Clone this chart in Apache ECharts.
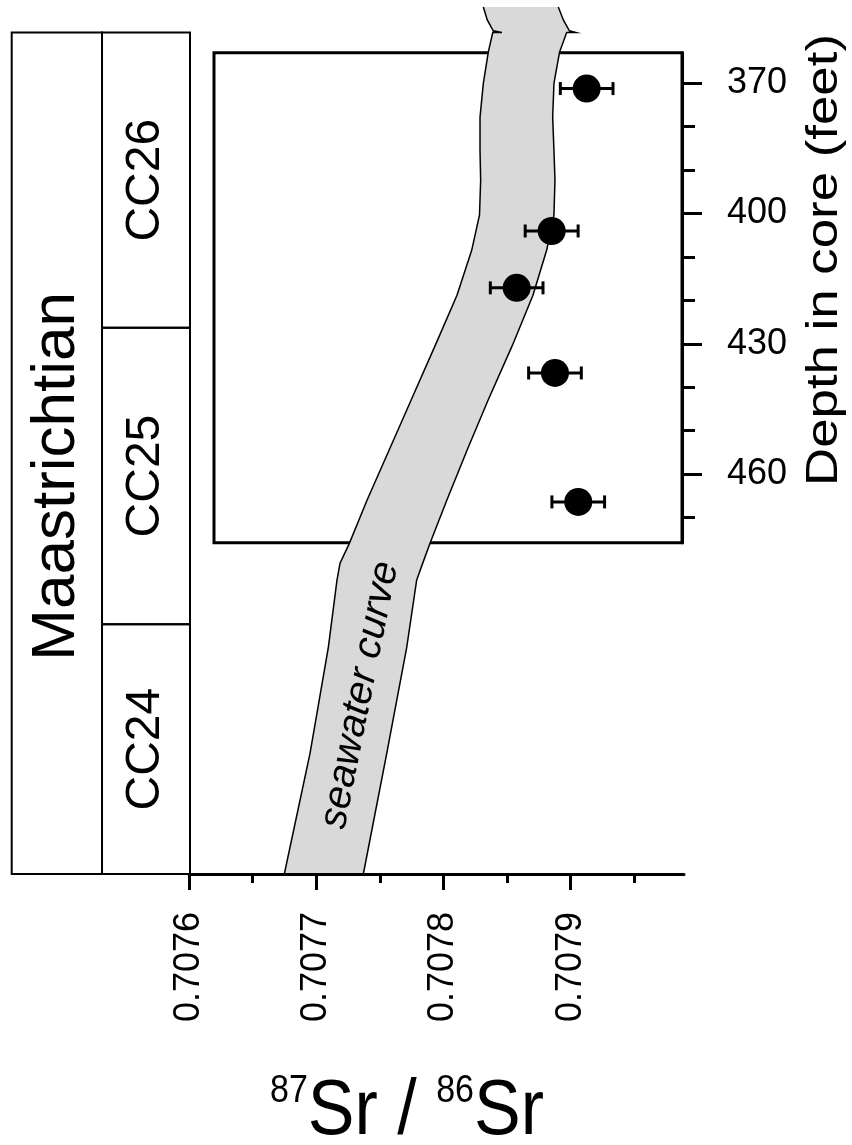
<!DOCTYPE html>
<html>
<head>
<meta charset="utf-8">
<script src="https://cdn.jsdelivr.net/npm/echarts@6/dist/echarts.min.js"></script>
<style>
  html, body { margin: 0; padding: 0; background: #fff; }
  #chart { width: 852px; height: 1145px; }
</style>
</head>
<body>
<div id="chart"></div>
<script>
// samples: depth (feet) and 87Sr/86Sr with 2-sigma error
const sampleDepth = [371.2, 404.0, 417.1, 436.7, 466.4];
const sampleRatio = [0.7079125, 0.7078850, 0.7078575, 0.7078876, 0.7079059];
const sampleErr = [0.0000207, 0.0000208, 0.0000207, 0.0000207, 0.0000207];

// seawater curve band (left / right edge)
const bandDepth = [358.3, 362.8, 370.0, 377.8, 385.4, 392.3, 400.3, 408.4, 418.8, 430.3,
  443.0, 454.5, 466.0, 475.9, 480.5, 484.4, 499.9, 524.3, 552.1];
const bandLow = [0.7078387, 0.7078352, 0.7078313, 0.7078287, 0.7078287, 0.7078292, 0.7078283,
  0.7078222, 0.7078106, 0.7077936, 0.7077745, 0.7077572, 0.7077399, 0.7077261, 0.7077187,
  0.7077163, 0.7077095, 0.7076951, 0.7076749];
const bandHigh = [0.7078968, 0.7078912, 0.7078868, 0.7078858, 0.7078868, 0.7078876, 0.7078868,
  0.7078811, 0.7078703, 0.7078542, 0.7078350, 0.7078185, 0.7078026, 0.7077894, 0.7077837,
  0.7077789, 0.7077711, 0.7077554, 0.7077370];

// broken-off top of the curve
const breakDepth = [352.4, 355.4, 357.9];
const breakLow = [0.7078313, 0.7078344, 0.7078391];
const breakHigh = [0.7078902, 0.7078942, 0.7078989];
const flickLen = 0.0000072;

// biostratigraphy
const stageName = 'Maastrichtian';
const stageTop = 358.3;
const stageBottom = 552.1;
const zoneNames = ['CC26', 'CC25', 'CC24'];
const zoneTop = [358.3, 426.3, 494.6];
const zoneBottom = [426.3, 494.6, 552.1];

// axes
const ratioTicks = [0.7076, 0.7077, 0.7078, 0.7079];
const ratioMinorTicks = [0.70765, 0.70775, 0.70785, 0.70795];
const depthTicks = [370, 400, 430, 460];
const depthMinorTicks = [380, 390, 410, 420, 440, 450, 470];

const FONT = "'Liberation Sans', Arial, Helvetica, sans-serif";
const chart = echarts.init(document.getElementById('chart'));

const ratioMin = 0.7076, ratioMax = 0.707989;
const depthMin = 350.8, depthMax = 552.1;
const boxMin = 362.95, boxMax = 475.83;

function renderBand(params, api) {
  const pt = (v, d) => api.coord([v, d]);
  const left = [];
  breakDepth.forEach((d, i) => left.push(pt(breakLow[i], d)));
  left.push(pt(bandLow[0] + flickLen, bandDepth[0]));
  bandDepth.forEach((d, i) => left.push(pt(bandLow[i], d)));
  const right = [];
  breakDepth.forEach((d, i) => right.push(pt(breakHigh[i], d)));
  right.push(pt(bandHigh[0] + flickLen, bandDepth[0]));
  bandDepth.forEach((d, i) => right.push(pt(bandHigh[i], d)));

  const fill = [];
  breakDepth.forEach((d, i) => fill.push(pt(breakLow[i], d)));
  bandDepth.forEach((d, i) => fill.push(pt(bandLow[i], d)));
  for (let i = bandDepth.length - 1; i >= 0; i--) fill.push(pt(bandHigh[i], bandDepth[i]));
  for (let i = breakDepth.length - 1; i >= 0; i--) fill.push(pt(breakHigh[i], breakDepth[i]));

  return {
    type: 'group',
    children: [
      { type: 'polygon', shape: { points: fill }, style: { fill: '#d9d9d9', stroke: null } },
      { type: 'polyline', shape: { points: left }, style: { fill: null, stroke: '#000', lineWidth: 1.5 } },
      { type: 'polyline', shape: { points: right }, style: { fill: null, stroke: '#000', lineWidth: 1.5 } }
    ]
  };
}

function renderErr(params, api) {
  const v = api.value(0), d = api.value(1), e = api.value(2);
  const a = api.coord([v - e, d]);
  const b = api.coord([v + e, d]);
  const cap = 6.5;
  const st = { stroke: '#000', lineWidth: 3 };
  return {
    type: 'group',
    children: [
      { type: 'line', shape: { x1: a[0], y1: a[1], x2: b[0], y2: b[1] }, style: st },
      { type: 'line', shape: { x1: a[0], y1: a[1] - cap, x2: a[0], y2: a[1] + cap }, style: st },
      { type: 'line', shape: { x1: b[0], y1: b[1] - cap, x2: b[0], y2: b[1] + cap }, style: st }
    ]
  };
}

function renderStrat(params, api) {
  const x0 = api.value(0), x1 = api.value(1);
  const top = api.value(2), bot = api.value(3);
  const name = api.value(4);
  const p0 = api.coord([x0, top]);
  const p1 = api.coord([x1, bot]);
  const isStage = name === stageName;
  const cx = (p0[0] + p1[0]) / 2;
  const cy = (p0[1] + p1[1]) / 2 + (isStage ? 23 : 0);
  return {
    type: 'group',
    children: [
      {
        type: 'rect',
        shape: { x: p0[0], y: p0[1], width: p1[0] - p0[0], height: p1[1] - p0[1] },
        style: { fill: null, stroke: '#000', lineWidth: 2 }
      },
      {
        type: 'text',
        x: cx, y: cy,
        rotation: Math.PI / 2,
        style: {
          text: name, fill: '#000', fontFamily: FONT,
          fontSize: isStage ? 62 : 48,
          align: 'center', verticalAlign: 'middle'
        }
      }
    ]
  };
}

const stratData = [[0, 0.5065, stageTop, stageBottom, stageName]];
zoneNames.forEach((n, i) => stratData.push([0.5065, 1, zoneTop[i], zoneBottom[i], n]));

const tickLine = { color: '#000', width: 3 };
const hiddenAxis = (gridIndex, min, max, inverse) =>
  ({ gridIndex, type: 'value', min, max, inverse: !!inverse, show: false });

chart.setOption({
  animation: false,
  backgroundColor: '#fff',
  grid: [
    { left: 189, top: 0, width: 495, height: 874 },
    { left: 214, top: 52.7, width: 468, height: 490, show: true, borderColor: '#000', borderWidth: 3, backgroundColor: 'transparent' },
    { left: 11.7, top: 0, width: 178.3, height: 874 },
    { left: 189, top: 0, width: 495, height: 874 },
    { left: 214, top: 52.7, width: 468, height: 490 }
  ],
  xAxis: [
    {
      gridIndex: 0, type: 'value', min: ratioMin, max: ratioMax, z: 5, position: 'bottom',
      axisLine: { show: true, onZero: false, lineStyle: tickLine },
      axisTick: { show: true, inside: false, customValues: ratioTicks, length: 16, lineStyle: tickLine },
      axisLabel: {
        customValues: ratioTicks, rotate: 90, margin: 38, color: '#000',
        fontSize: 36, fontFamily: FONT, formatter: v => v.toFixed(4)
      },
      splitLine: { show: false }
    },
    hiddenAxis(1, 0, 1),
    hiddenAxis(2, 0, 1),
    {
      gridIndex: 3, type: 'value', min: ratioMin, max: ratioMax, z: 5, position: 'bottom',
      axisLine: { show: false, onZero: false },
      axisTick: { show: true, inside: false, customValues: ratioMinorTicks, length: 9, lineStyle: tickLine },
      axisLabel: { show: false },
      splitLine: { show: false }
    },
    hiddenAxis(4, 0, 1)
  ],
  yAxis: [
    hiddenAxis(0, depthMin, depthMax, true),
    {
      gridIndex: 1, type: 'value', inverse: true, min: boxMin, max: boxMax, position: 'right',
      axisLine: { show: true, onZero: false, lineStyle: tickLine },
      axisTick: { show: true, inside: false, customValues: depthTicks, length: 20, lineStyle: tickLine },
      axisLabel: {
        customValues: depthTicks, margin: 45, color: '#000', fontSize: 36, fontFamily: FONT,
        padding: [8, 0, 0, 0]
      },
      splitLine: { show: false }
    },
    hiddenAxis(2, depthMin, depthMax, true),
    hiddenAxis(3, depthMin, depthMax, true),
    {
      gridIndex: 4, type: 'value', inverse: true, min: boxMin, max: boxMax, position: 'right',
      axisLine: { show: false, onZero: false },
      axisTick: { show: true, inside: false, customValues: depthMinorTicks, length: 13, lineStyle: tickLine },
      axisLabel: { show: false },
      splitLine: { show: false }
    }
  ],
  graphic: [
    {
      type: 'text', x: 825, y: 260, rotation: Math.PI / 2, scaleX: 1.2,
      style: {
        text: 'Depth in core (feet)', fill: '#000', fontFamily: FONT, fontSize: 44,
        align: 'center', verticalAlign: 'middle'
      }
    },
    {
      type: 'text', x: 360, y: 695, rotation: 1.373, z: 10,
      style: {
        text: 'seawater curve', fill: '#000', fontFamily: FONT, fontSize: 40, fontStyle: 'italic',
        align: 'center', verticalAlign: 'middle'
      }
    },
    {
      type: 'text', x: 407, y: 1112, scaleY: 1.12,
      style: {
        text: '{sup|87}Sr / {sup|86}Sr', fill: '#000', fontFamily: FONT, fontSize: 70,
        align: 'center', verticalAlign: 'middle',
        rich: { sup: { fontSize: 34, fontFamily: FONT, verticalAlign: 'top', fill: '#000' } }
      }
    }
  ],
  series: [
    {
      type: 'custom', xAxisIndex: 0, yAxisIndex: 0, z: 2, silent: true,
      renderItem: renderBand, data: [[0.7078, 450]], clip: false
    },
    {
      type: 'custom', xAxisIndex: 0, yAxisIndex: 0, z: 4, silent: true,
      renderItem: renderErr,
      data: sampleDepth.map((d, i) => [sampleRatio[i], d, sampleErr[i]])
    },
    {
      type: 'scatter', xAxisIndex: 0, yAxisIndex: 0, z: 5, symbol: 'circle', symbolSize: 28,
      itemStyle: { color: '#000', opacity: 1 },
      data: sampleDepth.map((d, i) => [sampleRatio[i], d])
    },
    {
      type: 'custom', xAxisIndex: 2, yAxisIndex: 2, silent: true, clip: false,
      renderItem: renderStrat,
      dimensions: ['x0', 'x1', 'top', 'bot', { name: 'name', type: 'ordinal' }],
      encode: { x: [0, 1], y: [2, 3] },
      data: stratData
    }
  ]
});
</script>
</body>
</html>
